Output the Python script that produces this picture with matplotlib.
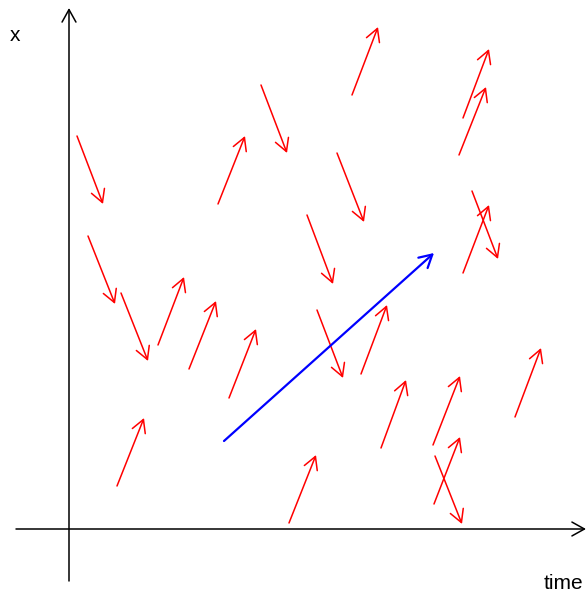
import matplotlib
matplotlib.use("Agg")
import matplotlib.pyplot as plt

# red arrows: start (t0, x0) -> end (t1, x1)
t0 = [2.83, 3.94, 3.90, 1.49, 3.94, 0.89, 1.20, 1.60, 2.92, 0.48, 3.12, 3.64, 4.46, 3.65, 2.20,
      0.08, 1.92, 2.68, 2.38, 4.03, 0.19, 0.52, 2.48, 3.66]
x0 = [4.34, 4.11, 3.74, 3.25, 2.56, 1.84, 1.60, 1.31, 1.55, 0.43, 0.81, 0.84, 1.12, 0.25, 0.06,
      3.93, 4.44, 3.76, 3.14, 3.38, 2.93, 2.36, 2.19, 0.73]
t1 = [3.09, 4.20, 4.17, 1.76, 4.20, 1.15, 1.47, 1.87, 3.18, 0.75, 3.37, 3.91, 4.72, 3.91, 2.47,
      0.34, 2.18, 2.95, 2.64, 4.29, 0.46, 0.79, 2.74, 3.93]
x1 = [5.02, 4.80, 4.42, 3.93, 3.24, 2.52, 2.28, 2.00, 2.24, 1.11, 1.49, 1.53, 1.81, 0.92, 0.74,
      3.25, 3.76, 3.07, 2.45, 2.70, 2.25, 1.68, 1.51, 0.05]

# blue arrow
blue_start = (1.55, 0.88)
blue_end = (3.65, 2.76)

fig = plt.figure(figsize=(5.87, 5.92), dpi=100)
ax = fig.add_axes([0, 0, 1, 1])
ax.set_xlim(-0.69, 5.18)
ax.set_ylim(-0.63, 5.29)
ax.axis("off")

head = "->,head_length=0.45,head_width=0.25"

def arrow(p0, p1, color, lw):
    ax.annotate("", xy=p1, xytext=p0,
                arrowprops=dict(arrowstyle=head, color=color, lw=lw,
                                shrinkA=0, shrinkB=0, mutation_scale=20))

# axes
arrow((0, -0.52), (0, 5.21), "black", 1.1)
arrow((-0.53, 0), (5.17, 0), "black", 1.1)

for a, b, c, d in zip(t0, x0, t1, x1):
    arrow((a, b), (c, d), "red", 1.1)

arrow(blue_start, blue_end, "blue", 1.6)

ax.text(-0.54, 4.88, "x", fontsize=15, family="Liberation Sans", ha="center", va="baseline")
ax.text(4.94, -0.60, "time", fontsize=15, family="Liberation Sans", ha="center", va="baseline")

fig.savefig("out.png", dpi=100)
